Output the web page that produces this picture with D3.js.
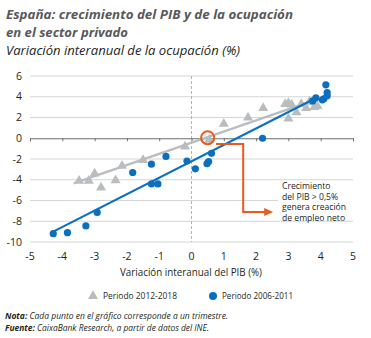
<!DOCTYPE html>
<html>
<head>
  <meta charset="utf-8">
  <script src="https://cdn.jsdelivr.net/npm/d3@7"></script>
  <style>
    body { margin: 0; background: #fff; }
    text { font-family: "Open Sans", "Noto Sans", sans-serif; }
  </style>
</head>
<body>
  <svg width="371" height="338" id="mainsvg"></svg>
  <script>
    // data
    const blueX = [-4.28, -3.84, -3.27, -2.92, -1.82, -1.24, -0.79, -1.24, -1.04, -0.14, 0.12, 0.48, 0.53, 0.62, 2.2, 3.75, 3.85, 4.05, 4.1, 4.2, 4.2, 4.16];
    const blueY = [-9.2, -9.1, -8.45, -7.15, -3.3, -2.5, -1.75, -4.4, -4.4, -2.2, -2.95, -2.45, -2.25, -1.45, 0.0, 3.6, 3.9, 3.7, 3.8, 4.1, 4.4, 5.15];
    const grayX = [-3.48, -3.18, -3.0, -2.8, -2.35, -2.15, -1.5, -0.2, 0.55, 1.0, 1.75, 2.22, 2.9, 3.0, 3.1, 3.0, 3.25, 3.4, 3.55, 3.65, 3.8, 3.9];
    const grayY = [-4.1, -4.1, -3.4, -4.75, -4.05, -2.65, -2.1, -0.8, -0.15, 1.4, 2.0, 2.9, 3.3, 3.4, 3.25, 1.9, 2.5, 3.3, 2.9, 3.5, 3.0, 3.1];
    const blueFit = [[-4.25, -8.95], [3.9, 3.95]];
    const grayFit = [[-3.65, -4.35], [3.75, 3.6]];
    const xTicks = d3.range(-5, 6, 1);
    const yTicks = [-10, -8, -6, -4, -2, 0, 2, 4, 6];
    const noteLines = ["Crecimiento", "del PIB > 0,5%", "genera creación", "de empleo neto"];

    const blue = '#0b6fbe', gray = '#b9bdbf', orange = '#e85a1e';

    const svg = d3.select('svg');
    const x = d3.scaleLinear().domain([-5, 5]).range([30, 353]);
    const y = d3.scaleLinear().domain([-10, 6]).range([242, 76]);

    // titles
    svg.append('text').attr('x', 6).attr('y', 19)
      .attr('font-size', 13).attr('font-weight', 'bold').attr('font-style', 'italic')
      .attr('fill', '#58595b').attr('textLength', 287).attr('lengthAdjust', 'spacingAndGlyphs')
      .text('España: crecimiento del PIB y de la ocupación');
    svg.append('text').attr('x', 6).attr('y', 37)
      .attr('font-size', 13).attr('font-weight', 'bold').attr('font-style', 'italic')
      .attr('fill', '#58595b').attr('textLength', 122).attr('lengthAdjust', 'spacingAndGlyphs')
      .text('en el sector privado');
    svg.append('text').attr('x', 6).attr('y', 55)
      .attr('font-size', 12).attr('font-style', 'italic')
      .attr('fill', '#231f20').attr('textLength', 234).attr('lengthAdjust', 'spacingAndGlyphs')
      .text('Variación interanual de la ocupación (%)');

    // grid
    svg.append('g').selectAll('line')
      .data(yTicks.filter(d => d !== 0))
      .join('line')
      .attr('x1', x(-5)).attr('x2', x(5))
      .attr('y1', d => y(d)).attr('y2', d => y(d))
      .attr('stroke', '#d4d5d6').attr('stroke-width', 1);

    // dashed x = 0
    svg.append('line')
      .attr('x1', x(0)).attr('x2', x(0)).attr('y1', y(6)).attr('y2', y(-10))
      .attr('stroke', '#b3b3b3').attr('stroke-dasharray', '3,2');

    // zero axis with ticks
    const xAxis = d3.axisBottom(x).tickValues(xTicks).tickSize(3).tickFormat('');
    const ax = svg.append('g').attr('transform', `translate(0,${y(0)})`).call(xAxis);
    ax.select('.domain').attr('stroke', '#6d6e71');
    ax.selectAll('.tick line').attr('stroke', '#6d6e71');

    // tick labels
    svg.append('g').selectAll('text')
      .data(yTicks).join('text')
      .attr('x', 22).attr('y', d => y(d)).attr('dy', '0.35em')
      .attr('text-anchor', 'end').attr('font-size', 10.5).attr('fill', '#231f20')
      .text(d => d);
    svg.append('g').selectAll('text')
      .data(xTicks).join('text')
      .attr('x', d => x(d)).attr('y', 256).attr('dy', '0.35em')
      .attr('text-anchor', 'middle').attr('font-size', 10.5).attr('fill', '#231f20')
      .text(d => d);
    svg.append('text').attr('x', 191).attr('y', 276)
      .attr('text-anchor', 'middle').attr('font-size', 10).attr('fill', '#231f20')
      .attr('textLength', 142).attr('lengthAdjust', 'spacingAndGlyphs')
      .text('Variación interanual del PIB (%)');

    // annotation box (white behind text)
    svg.append('rect').attr('x', 278).attr('y', 183).attr('width', 76).attr('height', 37).attr('fill', '#fff');
    svg.append('g').selectAll('text')
      .data(noteLines).join('text')
      .attr('x', 282).attr('y', (d, i) => 186 + i * 10.7).attr('dy', '0.35em')
      .attr('font-size', 8.6).attr('fill', '#231f20')
      .text(d => d);

    // gray series
    const tri = d3.symbol().type(d3.symbolTriangle).size(44);
    svg.append('g').selectAll('path')
      .data(d3.zip(grayX, grayY)).join('path')
      .attr('transform', d => `translate(${x(d[0])},${y(d[1])})`)
      .attr('d', tri).attr('fill', gray);
    const line = d3.line().x(d => x(d[0])).y(d => y(d[1]));
    svg.append('path').datum(grayFit).attr('d', line)
      .attr('stroke', gray).attr('stroke-width', 2.2).attr('fill', 'none');

    // blue series
    svg.append('path').datum(blueFit).attr('d', line)
      .attr('stroke', blue).attr('stroke-width', 2.2).attr('fill', 'none');
    svg.append('g').selectAll('circle')
      .data(d3.zip(blueX, blueY)).join('circle')
      .attr('cx', d => x(d[0])).attr('cy', d => y(d[1])).attr('r', 3.6)
      .attr('fill', blue);

    // orange marker + arrow
    svg.append('circle').attr('cx', x(0.5)).attr('cy', y(0.05)).attr('r', 6.5)
      .attr('fill', 'none').attr('stroke', orange).attr('stroke-width', 2);
    svg.append('path')
      .attr('d', `M${x(0.76)},${y(-0.55)}H${x(1.6)}V${y(-7.1)}H${x(2.3)}`)
      .attr('stroke', orange).attr('stroke-width', 2).attr('fill', 'none');
    svg.append('path')
      .attr('d', `M${x(2.25)},${y(-7.1) - 4}L${x(2.25) + 9},${y(-7.1)}L${x(2.25)},${y(-7.1) + 4}Z`)
      .attr('fill', orange);

    // legend
    const lg = svg.append('g').attr('transform', 'translate(0,296)');
    lg.append('path').attr('transform', 'translate(93,0)').attr('d', tri).attr('fill', gray);
    lg.append('text').attr('x', 103).attr('dy', '0.35em').attr('font-size', 9.5).attr('fill', '#231f20')
      .attr('textLength', 74).attr('lengthAdjust', 'spacingAndGlyphs').text('Periodo 2012-2018');
    lg.append('circle').attr('cx', 213).attr('r', 4).attr('fill', blue);
    lg.append('text').attr('x', 222).attr('dy', '0.35em').attr('font-size', 9.5).attr('fill', '#231f20')
      .attr('textLength', 71).attr('lengthAdjust', 'spacingAndGlyphs').text('Periodo 2006-2011');

    // notes
    const n1 = svg.append('text').attr('x', 5).attr('y', 319).attr('font-size', 9)
      .attr('font-style', 'italic').attr('fill', '#231f20')
      .attr('textLength', 223).attr('lengthAdjust', 'spacingAndGlyphs');
    n1.append('tspan').attr('font-weight', 'bold').text('Nota: ');
    n1.append('tspan').text('Cada punto en el gráfico corresponde a un trimestre.');
    const n2 = svg.append('text').attr('x', 5).attr('y', 331).attr('font-size', 9)
      .attr('font-style', 'italic').attr('fill', '#231f20')
      .attr('textLength', 204).attr('lengthAdjust', 'spacingAndGlyphs');
    n2.append('tspan').attr('font-weight', 'bold').text('Fuente: ');
    n2.append('tspan').text('CaixaBank Research, a partir de datos del INE.');
  </script>
</body>
</html>
